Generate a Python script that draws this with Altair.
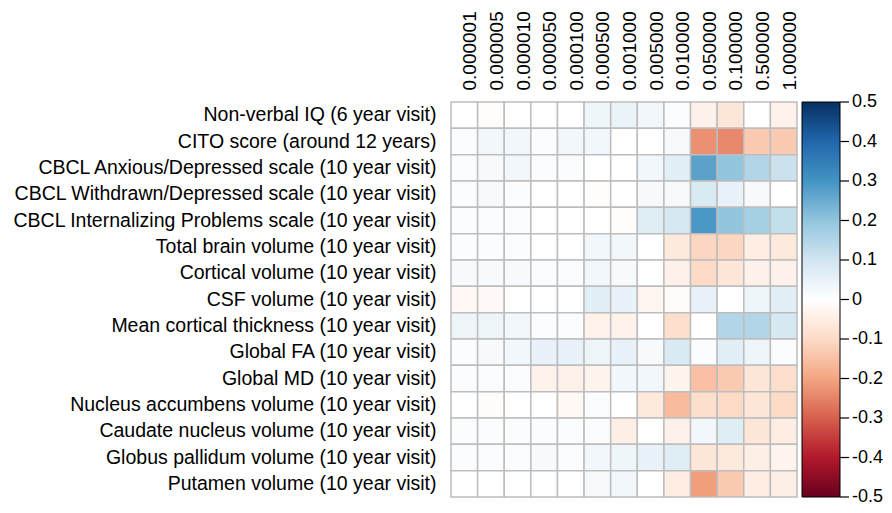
import altair as alt
import pandas as pd

rows = [
    "Non-verbal IQ (6 year visit)",
    "CITO score (around 12 years)",
    "CBCL Anxious/Depressed scale (10 year visit)",
    "CBCL Withdrawn/Depressed scale (10 year visit)",
    "CBCL Internalizing Problems scale (10 year visit)",
    "Total brain volume (10 year visit)",
    "Cortical volume (10 year visit)",
    "CSF volume (10 year visit)",
    "Mean cortical thickness (10 year visit)",
    "Global FA (10 year visit)",
    "Global MD (10 year visit)",
    "Nucleus accumbens volume (10 year visit)",
    "Caudate nucleus volume (10 year visit)",
    "Globus pallidum volume (10 year visit)",
    "Putamen volume (10 year visit)",
]
cols = ["0.000001", "0.000005", "0.000010", "0.000050", "0.000100", "0.000500",
        "0.001000", "0.005000", "0.010000", "0.050000", "0.100000", "0.500000", "1.000000"]

values = [
    [0.00, -0.005, 0.00, 0.00, 0.00, 0.035, 0.045, 0.03, 0.01, -0.04, -0.07, 0.00, -0.035],
    [0.01, 0.03, 0.03, 0.01, 0.03, 0.03, 0.00, 0.00, 0.02, -0.23, -0.24, -0.13, -0.13],
    [0.01, 0.02, 0.03, 0.01, 0.01, 0.00, 0.00, 0.03, 0.06, 0.27, 0.20, 0.15, 0.11],
    [0.01, 0.02, 0.01, 0.00, 0.00, -0.005, 0.00, 0.02, 0.02, 0.08, 0.05, 0.02, 0.00],
    [0.01, 0.01, 0.01, 0.00, 0.00, 0.00, -0.005, 0.07, 0.09, 0.29, 0.20, 0.17, 0.12],
    [0.01, 0.01, 0.01, 0.00, 0.00, 0.03, 0.03, 0.00, -0.06, -0.11, -0.11, -0.05, -0.06],
    [0.02, 0.02, 0.02, 0.01, 0.01, 0.03, 0.02, 0.00, -0.04, -0.10, -0.07, -0.04, -0.04],
    [-0.02, -0.015, 0.00, 0.00, 0.00, 0.06, 0.05, -0.025, -0.01, 0.05, 0.00, 0.04, 0.06],
    [0.04, 0.04, 0.03, 0.01, 0.01, -0.035, -0.035, 0.00, -0.09, 0.00, 0.15, 0.15, 0.09],
    [0.01, 0.02, 0.03, 0.05, 0.05, 0.04, 0.05, 0.02, 0.08, 0.01, 0.06, 0.04, 0.01],
    [0.01, 0.01, 0.01, -0.035, -0.04, -0.03, 0.03, 0.03, -0.03, -0.15, -0.13, -0.07, -0.09],
    [0.00, -0.01, 0.00, 0.00, -0.02, 0.01, 0.00, -0.06, -0.16, -0.09, -0.10, -0.07, -0.10],
    [0.01, 0.01, 0.01, 0.01, 0.01, 0.01, -0.045, 0.00, -0.04, 0.03, 0.07, -0.07, -0.05],
    [0.01, 0.01, 0.01, 0.02, 0.01, 0.03, 0.035, 0.05, 0.07, -0.07, -0.06, -0.045, -0.03],
    [0.00, 0.00, 0.00, 0.00, 0.00, 0.02, 0.03, 0.00, -0.05, -0.21, -0.13, -0.05, -0.045],
]

color_domain = [-0.5, -0.4, -0.3, -0.2, -0.1, 0.0, 0.1, 0.2, 0.3, 0.4, 0.5]
color_range = ["#67001F", "#B2182B", "#D6604D", "#F4A582", "#FDDBC7", "#FFFFFF",
               "#D1E5F0", "#92C5DE", "#4393C3", "#2166AC", "#053061"]
legend_values = [0.5, 0.4, 0.3, 0.2, 0.1, 0.0, -0.1, -0.2, -0.3, -0.4, -0.5]
legend_labels = ["0.5", "0.4", "0.3", "0.2", "0.1", "0", "-0.1", "-0.2", "-0.3", "-0.4", "-0.5"]

records = []
for r, row in zip(rows, values):
    for c, v in zip(cols, row):
        records.append({"row": r, "col": c, "value": v})
df = pd.DataFrame(records)
leg_df = pd.DataFrame({"v": legend_values, "label": legend_labels})

FONT = "Liberation Sans"
FS = 19
W, H = 346, 395

heat = alt.Chart(df).mark_rect(stroke="#bdbdbd", strokeWidth=1.5).encode(
    x=alt.X("col:N", sort=cols, title=None,
            axis=alt.Axis(orient="top", labelAngle=-90, labelAlign="left",
                          labelBaseline="middle", ticks=False, domain=False,
                          labelPadding=12, labelOffset=6, labelFontSize=FS,
                          labelFont=FONT, labelColor="black")),
    y=alt.Y("row:N", sort=rows, title=None,
            axis=alt.Axis(ticks=False, domain=False, labelPadding=15,
                          labelFontSize=19.5, labelFont=FONT, labelColor="black",
                          labelLimit=600)),
    color=alt.Color("value:Q",
                    scale=alt.Scale(domain=color_domain, range=color_range,
                                    interpolate="rgb"),
                    legend=alt.Legend(title=None, orient="none", direction="vertical",
                                      legendX=351, legendY=0,
                                      gradientLength=H, gradientThickness=38,
                                      gradientStrokeColor="black", gradientStrokeWidth=1,
                                      labelExpr="''")),
)

vscale = alt.Scale(domain=[-0.5, 0.5], range=[H, 0])

ticks = alt.Chart(leg_df).mark_rule(color="black", strokeWidth=1.2).encode(
    x=alt.value(389), x2=alt.value(398),
    y=alt.Y("v:Q", scale=vscale, axis=None),
)

labels = alt.Chart(leg_df).mark_text(
    align="left", baseline="middle", font=FONT, fontSize=18, color="black"
).encode(
    x=alt.value(401),
    y=alt.Y("v:Q", scale=vscale, axis=None),
    text="label:N",
)

chart = alt.layer(heat, ticks, labels).resolve_scale(y="independent").properties(
    width=W, height=H,
    autosize=alt.AutoSizeParams(type="none"),
    padding={"left": 443, "top": 94, "right": 87, "bottom": 8},
).configure_view(stroke=None)

chart.save("out.html", embed_options={"renderer": "svg", "actions": False})
